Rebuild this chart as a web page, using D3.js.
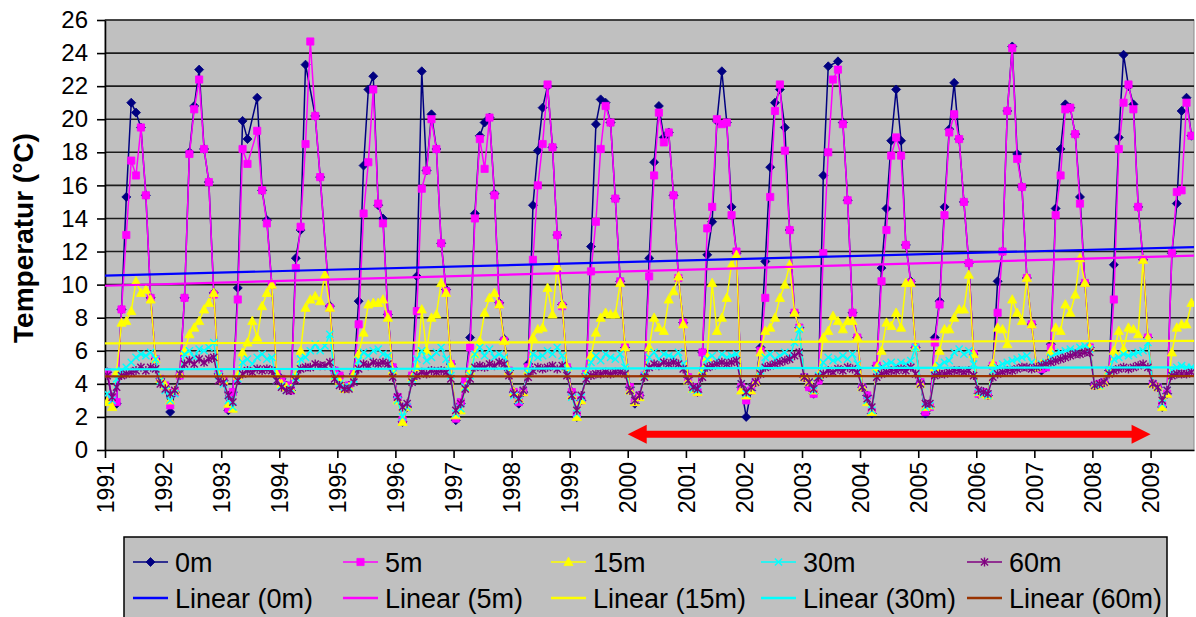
<!DOCTYPE html>
<html>
<head>
<meta charset="utf-8">
<script src="https://cdn.jsdelivr.net/npm/d3@7/dist/d3.min.js"></script>
<style>
  body { margin: 0; background: #fff; }
  text { font-family: "Liberation Sans", Arial, sans-serif; }
</style>
</head>
<body>
<svg id="chart"></svg>
<script>
// Monthly water temperature per depth, Jan 1991 - Sep 2009 (null = no sample that month)
var seriesNames = ['0m', '5m', '15m', '30m', '60m'];
var years = [1991, 1992, 1993, 1994, 1995, 1996, 1997, 1998, 1999, 2000,
             2001, 2002, 2003, 2004, 2005, 2006, 2007, 2008, 2009];
var yTicks = [0, 2, 4, 6, 8, 10, 12, 14, 16, 18, 20, 22, 24, 26];

var t0 = [
  4.7, 3.0, 2.8, 8.5, 15.3, 21.0, 20.4, 19.5, 15.4, 9.2, 5.5, 4.3,     // 1991
  3.8, 2.3, 3.5, 4.5, 9.2, 18.0, 20.8, 23.0, 18.2, 16.2, 9.5, 4.6,     // 1992
  4.2, 2.4, 3.5, 9.8, 19.9, 18.8, null, 21.3, 15.7, 13.9, 10.0, 4.6,   // 1993
  4.3, 3.9, 3.6, 11.6, 13.3, 23.3, null, 20.2, 16.5, null, 8.7, 4.8,   // 1994
  4.5, 3.8, 3.9, 4.6, 9.0, 17.2, 21.8, 22.6, 14.8, 14.0, 8.2, 5.0,     // 1995
  3.2, 1.7, 2.6, 4.5, 10.5, 22.9, 16.9, 20.3, 18.2, 12.5, 9.7, 5.2,    // 1996
  1.8, 2.8, 4.1, 6.8, 14.3, 19.0, 19.8, 20.1, 15.5, 8.9, 6.7, 4.8,     // 1997
  3.5, 2.8, 3.5, 5.2, 14.8, 18.1, 20.7, 22.0, 18.3, 13.0, 8.8, 5.0,    // 1998
  3.5, 2.0, 3.0, 4.6, 12.3, 19.7, 21.2, 21.0, 19.8, 15.2, 10.2, 6.2,   // 1999
  3.8, 2.8, 3.3, 4.5, 11.6, 17.4, 20.8, 18.9, 19.2, 15.4, 10.4, 7.7,   // 2000
  4.4, 3.8, 3.5, 5.9, 11.8, 13.8, 19.9, 22.9, 19.8, 14.7, 11.9, 3.8,   // 2001
  2.0, 3.6, 4.1, 6.2, 11.4, 17.1, 21.0, 21.8, 19.5, 13.3, 8.3, 7.4,    // 2002
  4.4, 3.8, 3.4, 4.2, 16.6, 23.2, null, 23.5, 19.8, 15.1, 8.3, 6.8,    // 2003
  3.8, 3.3, 2.2, 5.1, 11.0, 14.6, 18.7, 21.8, 18.7, 12.4, 10.2, 6.2,   // 2004
  4.1, 2.2, 2.6, 6.8, 9.0, 14.7, 19.4, 22.2, 18.8, 15.0, 11.3, 5.8,    // 2005
  3.4, 3.5, 3.3, 5.1, 10.2, 12.0, 20.5, 24.4, 17.9, 15.9, 10.4, 7.6,   // 2006
  5.0, 4.8, 5.0, 6.4, 14.6, 18.2, 20.9, 20.7, 19.1, 15.3, 10.1, 6.2,   // 2007
  3.9, 4.0, 4.1, 4.8, 11.2, 18.9, 23.9, 22.0, 20.9, 14.7, 11.5, 6.8,   // 2008
  4.0, 3.8, 2.6, 3.4, 11.9, 14.9, 20.5, 21.3, 19.0                     // 2009
];
var t5 = [
  4.7, 3.1, 2.9, 8.5, 13.0, 17.5, 16.6, 19.5, 15.4, 9.2, 5.5, 4.3,
  3.9, 2.7, 3.5, 4.5, 9.2, 17.9, 20.6, 22.4, 18.2, 16.2, 9.4, 4.6,
  4.2, 2.5, 3.5, 9.1, 18.2, 17.3, null, 19.3, 15.7, 13.7, 10.0, 4.6,
  4.3, 3.9, 3.6, 11.0, 13.5, 18.5, 24.7, 20.2, 16.5, null, 8.6, 4.8,
  4.5, 3.8, 3.9, 4.6, 7.6, 14.3, 17.4, 21.8, 14.9, 13.7, 8.2, 5.0,
  3.2, 1.8, 2.6, 4.5, 8.4, 15.8, 16.9, 20.0, 18.2, 12.5, 9.6, 5.2,
  1.9, 2.9, 4.2, 6.2, 14.0, 18.8, 17.0, 20.1, 15.4, 8.8, 6.6, 4.8,
  3.5, 2.9, 3.5, 5.0, 11.5, 16.0, 18.5, 22.1, 18.3, 13.0, 8.7, 5.0,
  3.5, 2.1, 3.0, 4.6, 10.8, 13.8, 18.2, 20.8, 19.8, 15.2, 10.2, 6.2,
  3.8, 2.9, 3.3, 4.5, 10.5, 16.6, 20.4, 18.6, 19.2, 15.4, 10.4, 7.7,
  4.4, 3.8, 3.5, 5.9, 13.4, 14.7, 20.0, 19.7, 19.8, 14.2, 12.0, 3.8,
  3.0, 3.6, 4.1, 6.0, 9.2, 15.3, 20.5, 22.1, 18.1, 13.3, 8.3, 7.4,
  4.4, 3.8, 3.4, 4.2, 11.9, 18.0, 22.4, 23.0, 19.7, 15.1, 8.3, 6.8,
  3.8, 3.3, 2.3, 5.1, 10.2, 13.3, 17.8, 18.9, 17.8, 12.4, 10.1, 6.2,
  4.1, 2.3, 2.6, 6.5, 8.8, 14.2, 19.2, 20.3, 18.8, 15.0, 11.3, 5.8,
  3.4, 3.5, 3.3, 5.1, 8.3, 12.0, 20.5, 24.3, 17.6, 15.9, 10.4, 7.6,
  5.0, 4.9, 5.0, 6.2, 14.2, 16.6, 20.6, 20.7, 19.1, 14.9, 10.1, 6.2,
  3.9, 4.0, 4.1, 4.8, 9.1, 18.2, 21.0, 22.1, 20.6, 14.7, 11.5, 6.8,
  4.0, 3.8, 2.7, 3.4, 11.9, 15.6, 15.7, 21.0, 19.0
];
var t15 = [
  2.9, 2.6, 4.7, 7.7, 7.8, 8.4, 10.2, 9.5, 9.7, 9.1, 5.5, 4.3,
  3.9, 3.0, 3.6, 4.6, 6.0, 7.0, 7.4, 7.8, 8.5, 8.9, 9.5, 4.6,
  4.2, 2.8, 2.5, 4.5, 5.9, 6.5, 7.8, 6.8, 8.7, 9.5, 10.0, 4.6,
  4.0, 3.8, 3.7, 4.5, 6.0, 8.6, 9.1, 9.3, 9.0, 10.6, 8.6, 4.5,
  4.2, 3.7, 3.8, 4.6, 5.8, 7.1, 8.8, 8.9, 8.9, 9.1, 8.0, 4.8,
  3.0, 1.7, 2.6, 4.4, 5.0, 8.5, 6.0, 8.0, 8.2, 10.1, 9.5, 5.2,
  2.1, 2.4, 3.8, 4.8, 5.8, 6.6, 8.3, 9.2, 9.5, 8.8, 6.6, 4.8,
  3.5, 3.1, 3.5, 4.8, 6.8, 7.3, 7.4, 9.8, 8.2, 11.1, 8.8, 5.0,
  3.3, 2.0, 3.0, 4.6, 5.7, 7.1, 8.0, 8.3, 8.2, 8.2, 10.1, 6.2,
  3.6, 2.9, 3.2, 4.5, 6.2, 8.0, 7.4, 7.2, 9.1, 9.6, 10.5, 7.6,
  4.2, 3.7, 3.5, 4.8, 5.6, 10.1, 7.2, 8.0, 9.2, 11.2, 11.8, 3.6,
  3.3, 3.6, 4.1, 5.9, 7.2, 7.4, 8.0, 9.2, 10.0, 11.2, 8.3, 7.4,
  4.4, 4.1, 3.6, 4.5, 6.8, 7.2, 8.1, 7.8, 7.3, 7.8, 7.8, 6.8,
  3.8, 2.9, 2.3, 5.0, 6.0, 7.7, 7.5, 8.3, 7.4, 10.1, 10.1, 6.2,
  4.0, 2.6, 2.7, 5.0, 6.0, 7.3, 7.3, 8.0, 8.5, 8.5, 10.6, 5.8,
  3.5, 3.4, 3.3, 5.2, 7.4, 7.3, 6.4, 9.1, 8.3, 7.8, 10.4, 7.6,
  5.0, 5.2, 5.2, 6.0, 7.4, 7.2, 8.8, 8.3, 9.4, 11.6, 10.1, 6.2,
  3.9, 3.9, 4.1, 4.8, 6.0, 7.2, 6.1, 7.4, 7.3, 7.0, 11.5, 6.8,
  4.0, 3.8, 2.6, 3.4, 5.9, 7.4, 7.6, 7.6, 8.9
];
var t30 = [
  3.4, 3.0, 4.3, 4.8, 5.0, 5.3, 5.6, 5.8, 5.7, 5.9, 5.5, 4.2,
  3.6, 3.0, 3.4, 4.6, 5.8, 6.0, 5.6, 6.1, 6.0, 6.2, 6.5, 4.5,
  4.0, 3.0, 2.6, 4.3, 5.3, 5.5, 5.2, 5.6, 5.8, 5.5, 5.6, 4.2,
  3.9, 3.6, 3.7, 4.4, 5.5, 5.6, 6.0, 6.4, 6.0, 6.3, 7.0, 4.5,
  4.0, 3.8, 3.8, 4.3, 5.4, 5.9, 5.7, 6.0, 6.1, 5.8, 5.7, 4.6,
  3.0, 2.0, 2.6, 4.3, 5.5, 6.0, 5.4, 5.6, 5.9, 6.2, 5.5, 4.5,
  2.2, 2.5, 3.8, 4.5, 5.8, 6.2, 5.7, 6.1, 5.6, 5.8, 5.6, 4.6,
  3.3, 3.0, 3.6, 4.6, 5.8, 5.6, 5.7, 6.0, 5.8, 6.2, 5.7, 4.6,
  3.2, 2.2, 3.2, 4.5, 5.3, 5.7, 5.4, 5.8, 5.6, 5.5, 5.8, 5.0,
  3.6, 3.0, 3.3, 4.5, 5.6, 5.9, 5.5, 5.8, 5.7, 5.6, 5.9, 5.2,
  4.2, 3.7, 3.6, 4.6, 5.5, 5.7, 5.4, 5.8, 5.6, 5.7, 5.8, 4.0,
  3.4, 3.8, 4.1, 4.8, 5.6, 5.8, 5.5, 5.7, 5.9, 5.6, 6.5, 7.3,
  4.4, 4.1, 3.6, 4.5, 5.3, 5.6, 5.4, 5.5, 5.7, 5.5, 5.8, 5.2,
  3.8, 3.0, 2.4, 4.6, 5.0, 5.2, 5.3, 5.1, 5.3, 5.2, 5.4, 6.2,
  4.0, 2.6, 2.7, 4.8, 5.1, 5.3, 5.4, 5.9, 6.1, 5.8, 6.0, 5.2,
  3.5, 3.4, 3.3, 4.8, 5.0, 5.2, 5.3, 5.4, 5.5, 5.6, 5.7, 5.3,
  5.0, 5.2, 5.3, 5.6, 5.8, 5.9, 6.0, 6.1, 6.0, 6.2, 6.3, 6.1,
  3.9, 3.9, 4.1, 4.8, 5.5, 5.6, 5.8, 5.7, 5.8, 5.9, 6.0, 6.5,
  4.0, 3.8, 2.8, 3.6, 4.8, 5.0, 5.1, 5.0, 5.0
];
var t60 = [
  4.5, 3.2, 3.8, 4.5, 4.6, 4.7, 4.8, 5.0, 4.8, 5.0, 4.9, 4.0,
  3.7, 3.4, 3.6, 4.6, 5.2, 5.4, 5.2, 5.5, 5.3, 5.5, 5.6, 4.2,
  4.1, 3.3, 2.9, 4.2, 4.6, 4.8, 4.7, 4.9, 4.8, 4.9, 4.8, 4.2,
  3.8, 3.6, 3.6, 4.2, 4.9, 5.0, 5.0, 5.2, 5.1, 5.1, 5.3, 4.3,
  3.9, 3.7, 3.7, 4.1, 4.9, 5.2, 5.1, 5.3, 5.2, 5.3, 5.2, 4.4,
  3.2, 2.6, 2.8, 4.1, 4.5, 4.7, 4.6, 4.8, 4.7, 4.8, 4.7, 4.3,
  2.4, 2.8, 3.7, 4.3, 5.0, 5.1, 5.0, 5.2, 5.1, 5.3, 5.2, 4.5,
  3.4, 3.1, 3.6, 4.4, 4.8, 5.0, 4.9, 5.0, 5.1, 4.9, 5.1, 4.5,
  3.3, 2.4, 3.3, 4.3, 4.5, 4.6, 4.6, 4.7, 4.6, 4.7, 4.7, 4.6,
  3.6, 3.0, 3.3, 4.4, 5.0, 5.2, 5.1, 5.3, 5.2, 5.3, 5.2, 4.9,
  4.2, 3.8, 3.7, 4.4, 5.0, 5.1, 5.2, 5.3, 5.2, 5.3, 5.4, 4.0,
  3.5, 3.8, 4.1, 4.6, 5.0, 5.1, 5.2, 5.3, 5.4, 5.5, 5.7, 5.9,
  4.4, 4.1, 3.7, 4.4, 4.6, 4.8, 4.7, 4.9, 4.8, 5.0, 4.9, 4.7,
  3.8, 3.1, 2.6, 4.4, 4.6, 4.7, 4.8, 4.8, 4.9, 4.8, 5.0, 4.6,
  4.0, 2.8, 2.8, 4.5, 4.6, 4.6, 4.7, 4.8, 4.8, 4.7, 4.8, 4.5,
  3.6, 3.5, 3.4, 4.4, 4.6, 4.7, 4.8, 4.8, 4.9, 5.0, 5.0, 4.9,
  5.0, 5.1, 5.2, 5.3, 5.4, 5.5, 5.6, 5.7, 5.8, 5.8, 5.9, 5.9,
  3.9, 4.0, 4.1, 4.6, 4.8, 4.9, 5.0, 4.9, 5.0, 5.1, 5.2, 5.0,
  4.0, 3.8, 3.0, 3.6, 4.5, 4.6, 4.6, 4.6, 4.7
];

// Linear trend lines, value at start (Jan 1991) and end (Sep 2009)
var trendStart = [10.54, 9.93, 6.45, 4.88, 4.45];
var trendEnd   = [12.27, 11.75, 6.60, 5.00, 4.47];

// red double arrow: 2000 - 2009 at about 0.95 °C
var arrowYears = [2000, 2009];
var arrowLevel = 0.95;

var allValues = [t0, t5, t15, t30, t60];

// styles
var lineColors  = ['#000080', '#ff00ff', '#ffff00', '#00ffff', '#800080'];
var trendColors = ['#0000ff', '#ff00ff', '#ffff00', '#00ffff', '#993300'];
var markerPaths = [
  'M0,-4.5L4.5,0L0,4.5L-4.5,0Z',            // diamond
  'M-3.6,-3.6L3.6,-3.6L3.6,3.6L-3.6,3.6Z',  // square
  'M0,-4.8L4.6,3.6L-4.6,3.6Z',              // triangle
  'M-3.6,-3.6L3.6,3.6M-3.6,3.6L3.6,-3.6',   // x
  'M-3.6,-3.6L3.6,3.6M-3.6,3.6L3.6,-3.6M0,-4.5L0,4.5' // star
];
var markerFilled = [true, true, true, false, false];

var width = 1196, height = 617;
var plotL = 105, plotR = 1194, plotT = 20, plotB = 450;

var chart = d3.select('#chart')
  .attr('width', width)
  .attr('height', height);

var xScale = d3.scaleTime()
  .domain([new Date(1991, 0, 1), new Date(2009, 9, 1)])
  .range([plotL, plotR]);

var yScale = d3.scaleLinear()
  .domain([0, 26])
  .range([plotB, plotT]);

// plot background
chart.append('rect')
  .attr('x', plotL).attr('y', plotT)
  .attr('width', plotR - plotL).attr('height', plotB - plotT)
  .attr('fill', '#c0c0c0')
  .attr('stroke', '#8a8a8a')
  .attr('stroke-width', 1);

// horizontal grid lines
chart.append('g').selectAll('line')
  .data(yTicks.filter(function(t){ return t > 0; }))
  .enter().append('line')
    .attr('x1', plotL).attr('x2', plotR)
    .attr('y1', function(d){ return yScale(d); })
    .attr('y2', function(d){ return yScale(d); })
    .attr('stroke', '#1c1c1c')
    .attr('stroke-width', 1.6);

// y axis
var yAxis = chart.append('g')
  .attr('transform', 'translate(' + plotL + ',0)')
  .call(d3.axisLeft(yScale).tickValues(yTicks).tickSize(8).tickSizeOuter(0).tickPadding(9));
yAxis.select('.domain').attr('stroke', '#000').attr('stroke-width', 1.6);
yAxis.selectAll('.tick line').attr('stroke', '#000').attr('stroke-width', 1.6);
yAxis.selectAll('text')
  .style('font-size', '24px')
  .attr('fill', '#000');

// x axis with rotated year labels
var xAxis = chart.append('g')
  .attr('transform', 'translate(0,' + plotB + ')')
  .call(d3.axisBottom(xScale)
    .tickValues(years.map(function(yr){ return new Date(yr, 0, 1); }))
    .tickFormat(d3.timeFormat('%Y'))
    .tickSize(8).tickSizeOuter(0));
xAxis.select('.domain').attr('stroke', '#000').attr('stroke-width', 1.6);
xAxis.selectAll('.tick line').attr('stroke', '#000').attr('stroke-width', 1.6);
xAxis.selectAll('text')
  .style('font-size', '23px')
  .attr('fill', '#000')
  .attr('text-anchor', 'end')
  .attr('x', -12).attr('y', 0)
  .attr('dy', '0.36em')
  .attr('transform', 'rotate(-90)');

// y axis title
chart.append('text')
  .attr('transform', 'translate(33,238) rotate(-90)')
  .attr('text-anchor', 'middle')
  .style('font-size', '28px')
  .style('font-weight', 'bold')
  .text('Temperatur (°C)');

// clip to the plot area
chart.append('clipPath').attr('id', 'plotClip')
  .append('rect')
  .attr('x', plotL).attr('y', plotT - 6)
  .attr('width', plotR - plotL).attr('height', plotB - plotT + 6);

var plot = chart.append('g').attr('clip-path', 'url(#plotClip)');

var line = d3.line()
  .x(function(d){ return xScale(d.date); })
  .y(function(d){ return yScale(d.v); });

allValues.forEach(function(vals, i) {
  var pts = vals.map(function(v, k){ return { date: new Date(1991, k, 15), v: v }; })
    .filter(function(d){ return d.v !== null; });
  var g = plot.append('g').attr('class', 'series-' + seriesNames[i]);
  g.append('path')
    .datum(pts)
    .attr('d', line)
    .attr('fill', 'none')
    .attr('stroke', lineColors[i])
    .attr('stroke-width', 1.5)
    .attr('stroke-linejoin', 'round');
  g.selectAll('.mk')
    .data(pts)
    .enter().append('path')
      .attr('class', 'mk')
      .attr('d', markerPaths[i])
      .attr('transform', function(d){ return 'translate(' + xScale(d.date) + ',' + yScale(d.v) + ')'; })
      .attr('fill', markerFilled[i] ? lineColors[i] : 'none')
      .attr('stroke', lineColors[i])
      .attr('stroke-width', markerFilled[i] ? 0.8 : 1.4);
});

// linear trend lines
trendStart.forEach(function(v0, i) {
  plot.append('line')
    .attr('x1', xScale(xScale.domain()[0]))
    .attr('x2', xScale(xScale.domain()[1]))
    .attr('y1', yScale(v0))
    .attr('y2', yScale(trendEnd[i]))
    .attr('stroke', trendColors[i])
    .attr('stroke-width', 2.2);
});

// red double-headed arrow
var ax0 = xScale(new Date(arrowYears[0], 0, 1)),
    ax1 = xScale(new Date(arrowYears[1], 0, 1)),
    ay = yScale(arrowLevel),
    headL = 19, headH = 9.5, shaft = 3.5;
chart.append('path')
  .attr('d', 'M' + ax0 + ',' + ay +
    'L' + (ax0 + headL) + ',' + (ay - headH) +
    'L' + (ax0 + headL) + ',' + (ay - shaft) +
    'L' + (ax1 - headL) + ',' + (ay - shaft) +
    'L' + (ax1 - headL) + ',' + (ay - headH) +
    'L' + ax1 + ',' + ay +
    'L' + (ax1 - headL) + ',' + (ay + headH) +
    'L' + (ax1 - headL) + ',' + (ay + shaft) +
    'L' + (ax0 + headL) + ',' + (ay + shaft) +
    'L' + (ax0 + headL) + ',' + (ay + headH) + 'Z')
  .attr('fill', '#ff0000');

// legend
var legend = chart.append('g');
legend.append('rect')
  .attr('x', 124).attr('y', 537)
  .attr('width', 1043).attr('height', 100)
  .attr('fill', '#c0c0c0')
  .attr('stroke', '#000')
  .attr('stroke-width', 1.5);

var colX = [133, 343, 551, 761, 967];
var rowY = [562, 598];

seriesNames.forEach(function(name, i) {
  var cx = colX[i];
  // row 1: series with marker
  legend.append('line')
    .attr('x1', cx).attr('x2', cx + 35)
    .attr('y1', rowY[0]).attr('y2', rowY[0])
    .attr('stroke', lineColors[i]).attr('stroke-width', 1.5);
  legend.append('path')
    .attr('d', markerPaths[i])
    .attr('transform', 'translate(' + (cx + 17.5) + ',' + rowY[0] + ')')
    .attr('fill', markerFilled[i] ? lineColors[i] : 'none')
    .attr('stroke', lineColors[i])
    .attr('stroke-width', markerFilled[i] ? 0.8 : 1.4);
  legend.append('text')
    .attr('x', cx + 42).attr('y', rowY[0])
    .attr('dy', '0.36em')
    .style('font-size', '27px')
    .text(name);
  // row 2: trend line
  legend.append('line')
    .attr('x1', cx).attr('x2', cx + 35)
    .attr('y1', rowY[1]).attr('y2', rowY[1])
    .attr('stroke', trendColors[i]).attr('stroke-width', 2.5);
  legend.append('text')
    .attr('x', cx + 42).attr('y', rowY[1])
    .attr('dy', '0.36em')
    .style('font-size', '27px')
    .text('Linear (' + name + ')');
});
</script>
</body>
</html>
